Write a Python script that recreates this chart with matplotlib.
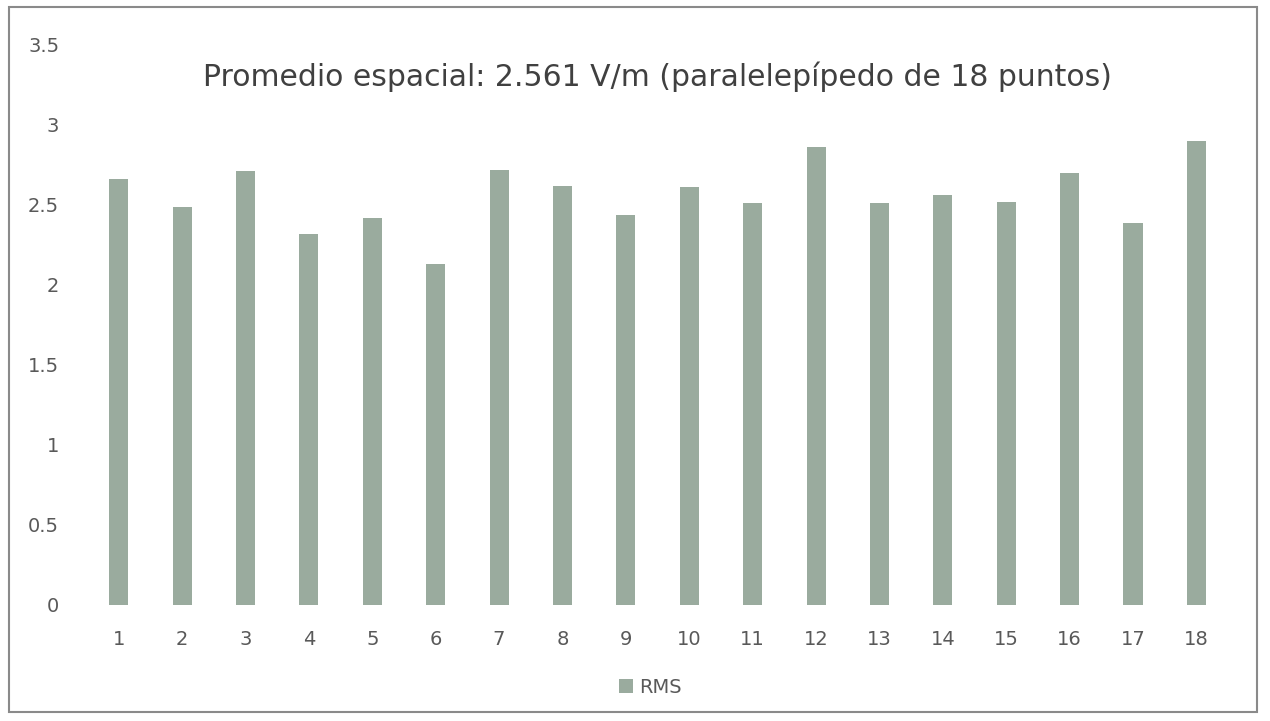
import matplotlib.pyplot as plt
from matplotlib.patches import Rectangle

points = [str(i) for i in range(1, 19)]
rms = [2.66, 2.49, 2.71, 2.32, 2.42, 2.13, 2.72, 2.62, 2.44,
       2.61, 2.51, 2.86, 2.51, 2.56, 2.52, 2.70, 2.39, 2.90]
yticks = [0, 0.5, 1, 1.5, 2, 2.5, 3, 3.5]
ytick_labels = ["0", "0.5", "1", "1.5", "2", "2.5", "3", "3.5"]
title = "Promedio espacial: 2.561 V/m (paralelepípedo de 18 puntos)"

bar_color = "#9aab9e"
text_color = "#595959"

fig = plt.figure(figsize=(12.7, 7.21), dpi=100)
ax = fig.add_axes([0.0685, 0.161, 0.8985, 0.7766])

x = list(range(1, len(points) + 1))
ax.bar(x, rms, width=0.3, color=bar_color, label="RMS")

ax.set_xlim(0.5, len(points) + 0.5)
ax.set_ylim(0, 3.5)
ax.set_xticks(x)
ax.set_xticklabels(points)
ax.set_yticks(yticks)
ax.set_yticklabels(ytick_labels)
ax.tick_params(axis="both", length=0, labelsize=14, labelcolor=text_color)
ax.tick_params(axis="x", pad=18)
ax.tick_params(axis="y", pad=20)
for s in ax.spines.values():
    s.set_visible(False)

fig.text(0.518, 0.894, title, ha="center", va="center", fontsize=21.5, color="#404040")

fig.legend(loc="center", bbox_to_anchor=(0.512, 0.047), frameon=False,
           fontsize=14, labelcolor=text_color, handlelength=0.7, handleheight=0.7,
           handletextpad=0.3)

# scanned frame around the chart
fig.patches.append(Rectangle((0.007, 0.012), 0.983, 0.978, transform=fig.transFigure,
                             fill=False, edgecolor="#8a8a8a", linewidth=1.5))

fig.savefig("out.png", dpi=100)
